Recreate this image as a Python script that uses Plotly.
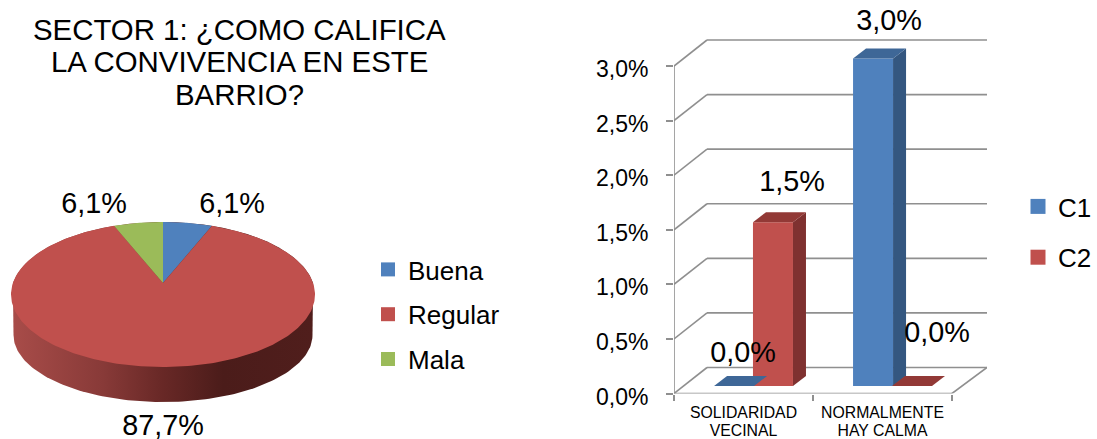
import math
import plotly.graph_objects as go

W, H = 1097, 439
FONT = "Liberation Sans, Arial, sans-serif"

# ---- data ----
title_lines = ["SECTOR 1: ¿COMO CALIFICA", "LA CONVIVENCIA EN ESTE", "BARRIO?"]
pie_labels = ["Buena", "Regular", "Mala"]
pie_values = [6.1, 87.7, 6.1]
pie_text = ["6,1%", "87,7%", "6,1%"]
pie_colors = ["#4F81BD", "#C0504D", "#9BBB59"]

bar_categories = [["SOLIDARIDAD", "VECINAL"], ["NORMALMENTE", "HAY CALMA"]]
series_names = ["C1", "C2"]
c1_values = [0.0, 3.0]
c2_values = [1.5, 0.0]
bar_text = ["0,0%", "1,5%", "3,0%", "0,0%"]
series_colors = ["#4F81BD", "#C0504D"]
top_colors = ["#3E6797", "#923936"]
side_colors = ["#345780", "#7F3130"]
y_ticks = [0.0, 0.5, 1.0, 1.5, 2.0, 2.5, 3.0]
GRID = "#8F8F8F"

fig = go.Figure()

# ---- pie: a circle seen in perspective, drawn on pixel axes ----
CX, APEX_Y, A, B, K = 163, 283, 150.1, 70.7, 0.1586
def pie_pt(frac):
    t = 2 * math.pi * frac
    u, v = math.sin(t), math.cos(t)
    w = 1 + K * v
    return CX + A * u / w, APEX_Y - B * v / w

# rim with a left-to-right shade
rim_x, rim_y = [], []
for i in range(0, 121):
    t = math.pi * i / 120
    rim_x.append(163 - 149.5 * math.cos(t))
    rim_y.append(335 + 67 * math.sin(t))
for i in range(0, 121):
    f = 0.25 - 0.5 * i / 120
    p = pie_pt(f)
    rim_x.append(p[0]); rim_y.append(p[1])
fig.add_trace(go.Scatter(
    x=rim_x, y=rim_y, mode="lines", fill="toself", line=dict(width=0), showlegend=False, hoverinfo="skip",
    fillgradient=dict(type="horizontal", colorscale=[
        [0, "#A84C49"], [0.3, "#883A38"], [0.5, "#682826"], [0.7, "#4B1C1A"], [1, "#501E1C"]])))

total = sum(pie_values)
start = 0.0
for lab, val, col in zip(pie_labels, pie_values, pie_colors):
    frac = val / total
    n = max(int(frac * 360), 2)
    pts = [pie_pt(start + frac * i / n) for i in range(n + 1)]
    fig.add_trace(go.Scatter(
        x=[CX] + [p[0] for p in pts] + [CX], y=[APEX_Y] + [p[1] for p in pts] + [APEX_Y],
        mode="lines", fill="toself", fillcolor=col, line=dict(width=0),
        showlegend=False, name=lab, hoverinfo="name"))
    start += frac

# pie data labels
fig.add_trace(go.Scatter(x=[232, 163, 94], y=[206, 427.5, 206], mode="text", text=pie_text,
                         textposition="middle center", cliponaxis=False, showlegend=False, hoverinfo="skip",
                         textfont=dict(family=FONT, size=28.8, color="#000000")))

for i, (lab, col) in enumerate(zip(pie_labels, pie_colors)):
    fig.add_trace(go.Scatter(x=[None], y=[None], mode="markers", name=lab, legend="legend",
                             legendgroup=lab, marker=dict(symbol="square", size=14, color=col)))

# ---- 3D-look columns, on real value axes ----
X0, XF, XB, Y0, YTOP, YBACK = 674, 952, 987, 393.5, 66, 40
ux = (XF - X0) / 2              # px per category
uy = (Y0 - YTOP) / 3.0          # px per 1%
x_max = (XB - X0) / ux
y_max = Y0 / uy                 # axis reaches the top of the page, labels sit up there
DX_AX, DY_AX = 33 / ux, 26 / uy  # axis depth
DX_B, DY_B = 13 / ux, 10 / uy    # bar depth
BASE = 7.5 / uy
BAR_W = 40 / ux
offsets = [0.432, 0.712]
def to_x2(px): return (px - X0) / ux
def to_y2(py): return (Y0 - py) / uy

# category labels, one row per text line (below the value axis, so on the page axes)
for row, py in enumerate([414, 432]):
    fig.add_trace(go.Scatter(x=[X0 + (i + 0.5) * ux for i in range(len(bar_categories))], y=[py] * len(bar_categories),
                             mode="text", text=[c[row] for c in bar_categories],
                             textposition="middle center", cliponaxis=False, showlegend=False, hoverinfo="skip",
                             textfont=dict(family=FONT, size=15.8, color="#000000")))

def rect_faces(xc, v):
    xl, xr, top = xc - BAR_W / 2, xc + BAR_W / 2, BASE + v
    top_face = ([xl, xr, xr + DX_B, xl + DX_B, xl], [top, top, top + DY_B, top + DY_B, top])
    side_face = ([xr, xr + DX_B, xr + DX_B, xr, xr], [BASE, BASE + DY_B, top + DY_B, top, BASE])
    return top_face, side_face

for s, vals in enumerate([c1_values, c2_values]):
    xs = [c + offsets[s] for c in range(len(vals))]
    fig.add_trace(go.Bar(x=xs, y=vals, base=[BASE] * len(vals), width=BAR_W, xaxis="x2", yaxis="y2",
                         marker=dict(color=series_colors[s], line=dict(width=0)),
                         name=series_names[s], showlegend=False))
    for xc, v in zip(xs, vals):
        tf, sf = rect_faces(xc, v)
        fig.add_trace(go.Scatter(x=sf[0], y=sf[1], xaxis="x2", yaxis="y2", mode="lines", fill="toself",
                                 fillcolor=side_colors[s], line=dict(width=0), showlegend=False, hoverinfo="skip"))
        fig.add_trace(go.Scatter(x=tf[0], y=tf[1], xaxis="x2", yaxis="y2", mode="lines", fill="toself",
                                 fillcolor=top_colors[s], line=dict(width=0), showlegend=False, hoverinfo="skip"))

for name, col in zip(series_names, series_colors):
    fig.add_trace(go.Scatter(x=[None], y=[None], mode="markers", name=name, legend="legend2",
                             legendgroup=name, marker=dict(symbol="square", size=15, color=col)))

# bar data labels
lab_px = [(743, 355), (792, 184), (889, 23), (937, 335)]
fig.add_trace(go.Scatter(x=[to_x2(p[0]) for p in lab_px], y=[to_y2(p[1]) for p in lab_px], xaxis="x2", yaxis="y2",
                         mode="text", text=bar_text, textposition="middle center", cliponaxis=False,
                         showlegend=False, hoverinfo="skip",
                         textfont=dict(family=FONT, size=28.8, color="#000000")))

shapes = []
def seg(x0, y0, x1, y1):
    shapes.append(dict(type="line", xref="x2", yref="y2", x0=x0, y0=y0, x1=x1, y1=y1, layer="below",
                       line=dict(color=GRID, width=1.6)))
for v in y_ticks:
    seg(0, v, DX_AX, v + DY_AX)
    seg(DX_AX, v + DY_AX, x_max, v + DY_AX)
seg(0, 0, 0, 3)
seg(0, 0, 2, 0)
seg(2, 0, x_max, DY_AX)

annotations = [dict(x=239.5, y=y, xref="x", yref="y", text=line, showarrow=False,
                    font=dict(family=FONT, size=29.4, color="#000000"), xanchor="center", yanchor="middle")
               for line, y in zip(title_lines, [29, 61, 94])]

fig.update_layout(
    width=W, height=H, margin=dict(l=0, r=0, t=0, b=0, autoexpand=False), autosize=False,
    paper_bgcolor="white", plot_bgcolor="rgba(0,0,0,0)", barmode="overlay",
    shapes=shapes, annotations=annotations,
    font=dict(family=FONT, color="#000000"),
    xaxis=dict(domain=[0, 1], range=[0, W], visible=False, fixedrange=True),
    yaxis=dict(domain=[0, 1], range=[H, 0], visible=False, fixedrange=True),
    xaxis2=dict(domain=[X0 / W, XB / W], range=[0, x_max], anchor="y2", showgrid=False, zeroline=False,
                showline=False, ticks="outside", ticklen=6, tickwidth=1.6, tickcolor=GRID,
                tickvals=[0, 1, 2], ticktext=["", "", ""], fixedrange=True),
    yaxis2=dict(domain=[(H - Y0) / H, 1], range=[0, y_max], anchor="x2", showgrid=False,
                zeroline=False, showline=False, ticks="outside", ticklen=7, tickwidth=1.6, tickcolor=GRID,
                tickvals=y_ticks, ticktext=[f"{v:.1f}%".replace(".", ",") for v in y_ticks],
                tickfont=dict(family=FONT, size=23, color="#000000"), fixedrange=True,
                ticklabelstandoff=13, ticklabelshift=3),
    legend=dict(x=368 / W, y=1 - 246 / H, xanchor="left", yanchor="top", bgcolor="rgba(0,0,0,0)",
                font=dict(family=FONT, size=26, color="#000000"), tracegroupgap=8, traceorder="grouped"),
    legend2=dict(x=1018 / W, y=1 - 183 / H, xanchor="left", yanchor="top", bgcolor="rgba(0,0,0,0)",
                 font=dict(family=FONT, size=26, color="#000000"), tracegroupgap=14, traceorder="grouped"),
)
fig.write_html("out.html", config={"displayModeBar": False},
               post_script='document.body.style.margin="0";document.documentElement.style.overflow="hidden";')
